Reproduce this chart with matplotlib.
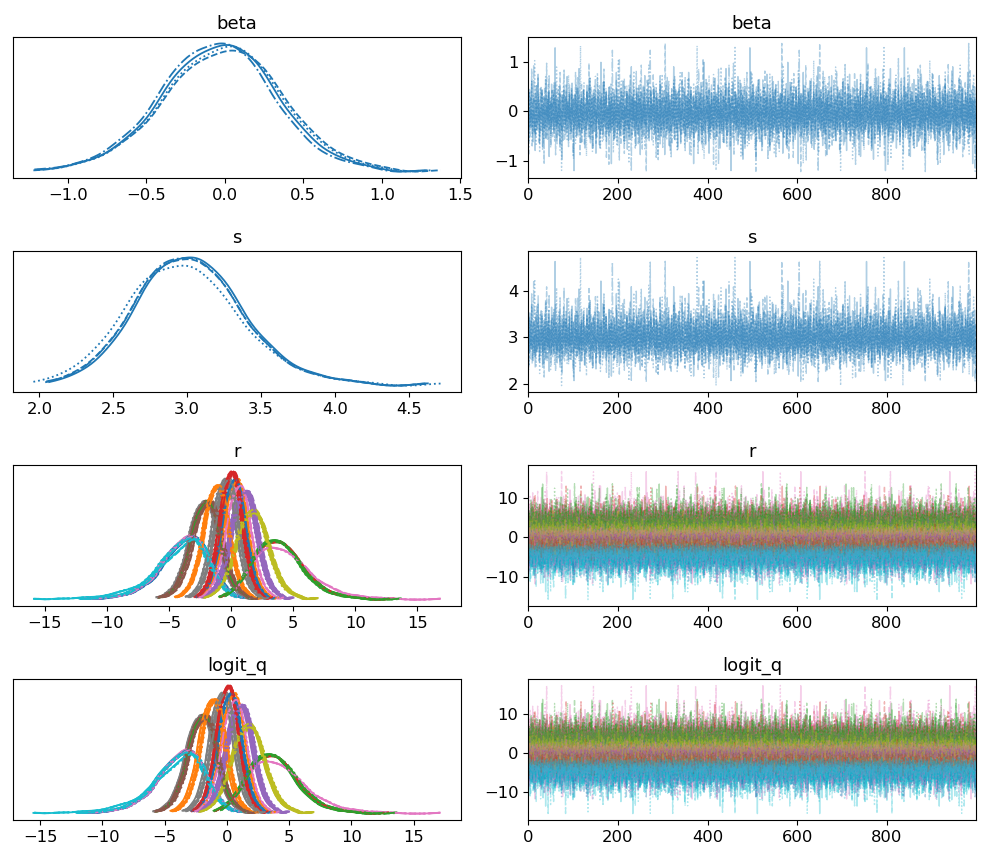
# Trace plot: posterior densities (left) and chain traces (right)
import numpy as np
import matplotlib.pyplot as plt

# standardised draws (shared pattern, windowed per chain)
z_draws = [
    0.32, -1.05, 0.87, 1.46, -0.21, 0.05, -0.78, 1.92, -0.44, 0.63,
    -1.61, 0.18, 0.94, -0.36, -2.12, 1.21, 0.47, -0.09, -0.93, 0.71,
    2.35, -0.58, 0.11, -1.27, 0.84, -0.15, 1.58, -0.67, 0.29, -1.88,
    0.52, 1.03, -0.31, -0.82, 0.16, 2.04, -1.43, 0.39, -0.05, 0.96,
    -0.72, 1.34, -2.47, 0.24, 0.58, -0.19, -1.12, 1.77, 0.08, -0.54,
    0.67, -0.88, 1.15, -0.26, 3.90, -0.63, 0.41, -1.36, 0.89, 0.13,
    -0.97, 0.55, -0.12, 1.64, -1.74, 0.33, 0.76, -0.45, -2.63, 1.09,
    0.21, -0.69, 1.41, -0.03, 0.62, -1.19, 0.98, -0.34, 2.21, -0.86,
    0.45, -1.52, 0.07, 1.27, -0.61, 0.36, -0.17, -1.01, 1.83, 0.59,
    -0.39, 0.92, -3.30, 0.27, 1.12, -0.74, 0.48, -0.24, 1.55, -1.21,
    0.14, -0.57, 2.68, -0.91, 0.35, 0.79, -1.66, 0.02, 1.03, -0.42,
    -0.11, 1.38, -0.83, 0.57, -1.98, 0.69, 0.26, -0.49, 1.71, -0.28,
    0.83, -1.31, 0.43, -0.06, 2.12, -0.77, 0.19, -1.47, 0.95, 0.38,
    -0.65, 1.22, -0.22, -0.98, 0.61, 1.49, -2.28, 0.12, -0.37, 0.88,
    1.06, -0.53, 0.31, -1.79, 0.74, -0.14, 3.05, -0.95, 0.22, -0.41,
    -1.16, 0.64, 1.87, -0.32, 0.09, -0.71, 1.29, -1.58, 0.51, 0.01,
    -0.87, 0.44, -0.23, 1.62, -1.09, 0.28, 0.72, -2.89, 0.99, -0.18,
    0.37, -0.62, 1.18, 0.04, -1.39, 0.85, -0.47, 2.46, -0.79, 0.17,
    -0.29, 1.08, -0.59, 0.66, -1.24, 0.23, 1.52, -0.92, -0.08, 0.78,
    1.96, -0.35, 0.53, -1.71, 0.15, -0.46, 0.91, -0.13, 1.33, -2.05,
    0.49, -0.81, 0.06, 1.44, -0.64, -1.46, 0.73, 2.79, -0.27, 0.34,
    -0.52, 1.17, -0.96, 0.25, 0.81, -0.16, -1.83, 0.68, 1.24, -0.38,
    0.03, -1.14, 1.69, -0.51, 0.46, -2.36, 0.97, 0.19, -0.76, 1.36,
    -0.33, 0.58, -1.28, 0.86, 2.27, -0.68, 0.11, -0.04, -1.02, 0.42,
    0.74, -0.25, 1.01, -1.55, 0.30, -0.89, 1.57, -0.43, 0.65, -0.07,
]

# beta: per-chain centre and spread
beta_chain_mean = [-0.06, -0.03, -0.04, -0.09]
beta_chain_sd = [0.345, 0.36, 0.35, 0.34]

# s: per-chain median and log-spread (right skewed)
s_chain_median = [2.99, 2.97, 2.93, 2.97]
s_chain_logsd = [0.112, 0.114, 0.122, 0.113]

# r: one entry per group
r_mean = [-3.8, -1.2, 3.6, 0.0, 1.0, -2.0, -3.9, -0.4, 1.7, -3.9,
          0.3, 0.4, -2.1, 3.7, 1.2, -1.8, 3.9, -2.3, 1.8, -4.0,
          -3.6, -1.3, 3.5, -0.1, 0.9, -2.2, -3.7, -0.6, 1.6, -3.8,
          0.2, -1.1, 3.7, 0.1, 1.1, -2.0, 0.6, -0.3, 1.7, -4.0]
r_sd = [1.8, 0.95, 1.8, 0.85, 1.0, 1.1, 1.8, 0.9, 1.2, 1.85,
        0.9, 0.9, 1.1, 1.85, 1.0, 1.1, 2.1, 1.1, 1.25, 1.85,
        1.8, 0.95, 1.8, 0.85, 1.0, 1.1, 1.8, 0.9, 1.2, 1.85,
        0.9, 0.95, 1.85, 0.85, 1.0, 1.15, 0.95, 0.9, 1.25, 2.15]
r_skew = [-0.08, 0.0, 0.08, 0.0, 0.0, 0.0, -0.1, 0.0, 0.02, -0.1,
          0.0, 0.0, 0.0, 0.08, 0.0, 0.0, 0.15, 0.0, 0.02, -0.1,
          -0.08, 0.0, 0.08, 0.0, 0.0, 0.0, -0.08, 0.0, 0.02, -0.08,
          0.0, 0.0, 0.1, 0.0, 0.0, 0.0, 0.0, 0.0, 0.02, -0.2]
r_chain_shift = [-0.08, -0.02, -0.12, -0.05]

# logit_q: one entry per group
logit_q_mean = [-3.7, -1.1, 3.5, 0.1, 1.0, -1.9, -3.8, -0.3, 1.7, -3.8,
                0.3, 0.5, -2.0, 3.6, 1.2, -1.8, 3.9, -2.2, 1.8, -3.9,
                -3.6, -1.3, 3.4, 0.0, 0.9, -2.1, -3.6, -0.5, 1.6, -3.7,
                0.2, -1.0, 3.7, 0.1, 1.1, -1.9, 0.6, -0.2, 1.7, -3.9]
logit_q_sd = [1.8, 0.95, 1.8, 0.85, 1.0, 1.1, 1.8, 0.9, 1.2, 1.85,
              0.9, 0.9, 1.1, 1.85, 1.0, 1.1, 2.1, 1.1, 1.25, 1.85,
              1.8, 0.95, 1.8, 0.85, 1.0, 1.1, 1.8, 0.9, 1.2, 1.85,
              0.9, 0.95, 1.85, 0.85, 1.0, 1.15, 0.95, 0.9, 1.25, 2.15]
logit_q_skew = [-0.08, 0.0, 0.08, 0.0, 0.0, 0.0, -0.1, 0.0, 0.02, -0.1,
                0.0, 0.0, 0.0, 0.08, 0.0, 0.0, 0.16, 0.0, 0.02, -0.1,
                -0.08, 0.0, 0.08, 0.0, 0.0, 0.0, -0.08, 0.0, 0.02, -0.08,
                0.0, 0.0, 0.1, 0.0, 0.0, 0.0, 0.0, 0.0, 0.02, -0.19]
logit_q_chain_shift = [-0.1, -0.06, -0.03, -0.08]

var_names = ["beta", "s", "r", "logit_q"]
trace_yticks = [[-1, 0, 1], [2, 3, 4], [-10, 0, 10], [-10, 0, 10]]
draw_ticks = [0, 200, 400, 600, 800]

n_chains = 4
n_keep = 900
chain_styles = ["-", "--", ":", "-."]
colors = plt.rcParams["axes.prop_cycle"].by_key()["color"]

z_base = np.array(z_draws)
z_all = np.concatenate([z_base, z_base[::-1], np.roll(z_base, 125),
                        np.roll(z_base[::-1], 60)])


def chain_z(c, v=0):
    return np.roll(z_all, -(c * 170 + v * 13))[:n_keep]


def kde_line(vals, npts=200):
    grid = np.linspace(vals.min(), vals.max(), npts)
    h = 0.9 * vals.std() * len(vals) ** (-0.2)
    dens = np.exp(-0.5 * ((grid[:, None] - vals[None, :]) / h) ** 2).sum(axis=1)
    dens /= len(vals) * h * np.sqrt(2 * np.pi)
    return grid, dens


# build draws: list of (colour, chain, values)
samples = {}
samples["beta"] = [(colors[0], c, beta_chain_mean[c] + beta_chain_sd[c] * chain_z(c))
                   for c in range(n_chains)]
samples["s"] = [(colors[0], c, s_chain_median[c] * np.exp(s_chain_logsd[c] * chain_z(c)))
                for c in range(n_chains)]
for name, means, sds, skews, shifts in [("r", r_mean, r_sd, r_skew, r_chain_shift),
                                        ("logit_q", logit_q_mean, logit_q_sd,
                                         logit_q_skew, logit_q_chain_shift)]:
    rows = []
    for c in range(n_chains):
        for v in range(len(means)):
            z = chain_z(c, v)
            vals = means[v] + shifts[c] + sds[v] * z * (1 + skews[v] * z)
            rows.append((colors[v % 10], c, vals))
    samples[name] = rows

fig, axes = plt.subplots(4, 2, figsize=(9.87, 8.61), dpi=100)
plt.subplots_adjust(left=0.0132, right=0.989, bottom=0.0476, top=0.957,
                    wspace=0.15, hspace=0.518)

draw_x = np.linspace(0, 999, n_keep)
for i, name in enumerate(var_names):
    ax_k, ax_t = axes[i]
    for col, c, vals in samples[name]:
        gx, gy = kde_line(vals)
        ax_k.plot(gx, gy, color=col, ls=chain_styles[c], lw=1.3)
        ax_t.plot(draw_x, vals, color=col, ls=chain_styles[c], lw=1.0, alpha=0.35)
    ax_k.set_yticks([])
    ax_k.set_title(name, fontsize=13)
    ax_t.set_title(name, fontsize=13)
    ax_t.set_xlim(0, 999)
    ax_t.set_xticks(draw_ticks)
    ax_t.set_yticks(trace_yticks[i])
    for ax in (ax_k, ax_t):
        ax.tick_params(labelsize=11.8)

plt.savefig("out.png", dpi=100)
